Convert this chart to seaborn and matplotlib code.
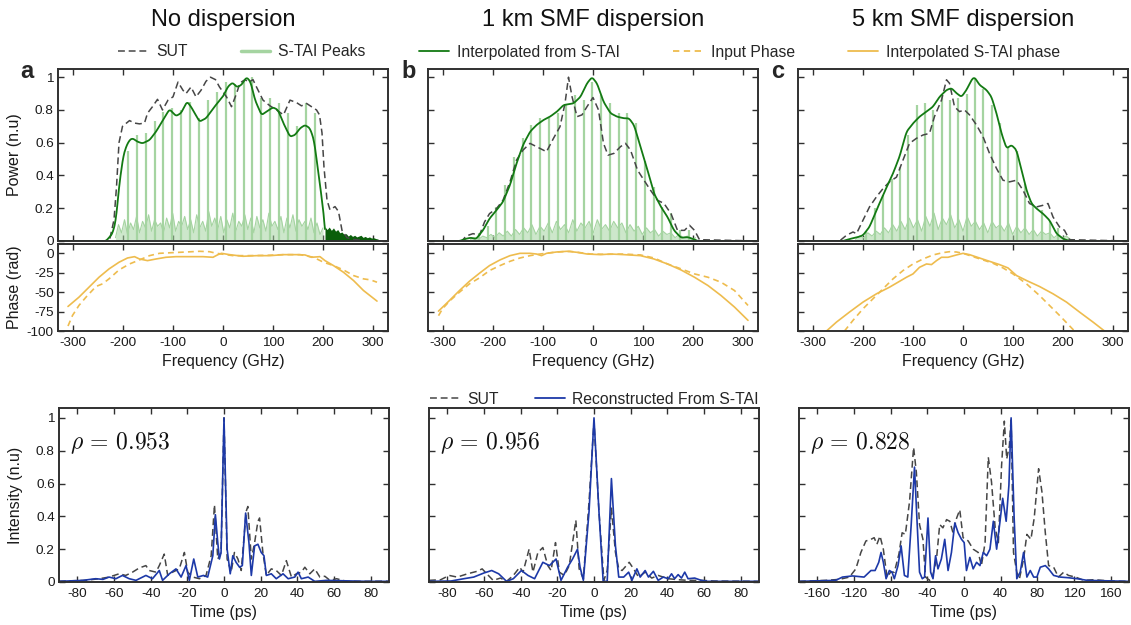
import numpy as np
import matplotlib
matplotlib.use("Agg")
import matplotlib.pyplot as plt
from matplotlib.lines import Line2D
import seaborn as sns

# ---------------- spectra (power, n.u.) ----------------
a_sut_f = [-330, -230, -227, -218, -213, -208, -201, -187, -177, -167, -157, -151, -141, -131, -121, -110, -100, -90, -80, -74,
           -64, -54, -44, -34, -25, -15, -7, 7, 17, 27, 34, 44, 52, 60, 67, 80, 94, 107, 121, 134,
           147, 157, 167, 177, 187, 193, 198, 202, 208, 214, 224, 231, 238, 248, 261, 288, 330]
a_sut_p = [0, 0, 0.004, 0.13, 0.33, 0.60, 0.70, 0.735, 0.72, 0.715, 0.72, 0.78, 0.82, 0.865, 0.80, 0.86, 0.88, 0.97, 0.92, 0.90,
           0.94, 0.88, 0.92, 0.975, 1.0, 0.985, 0.94, 0.88, 0.82, 0.90, 0.965, 0.985, 0.97, 0.985, 0.94, 0.86, 0.825, 0.80, 0.77, 0.86,
           0.845, 0.825, 0.84, 0.82, 0.80, 0.77, 0.66, 0.45, 0.25, 0.19, 0.21, 0.18, 0.065, 0.02, 0.01, 0.0, 0.0]
a_fit_f = [-330, -234, -221, -214, -208, -200, -194, -187, -181, -171, -161, -147, -134, -120, -107, -94, -84, -72, -64, -47,
           -34, -17, 0, 10, 19, 28, 37, 47, 55, 64, 77, 87, 100, 110, 121, 134, 144, 154, 164, 174,
           182, 191, 198, 204]
a_fit_p = [0, 0, 0.045, 0.13, 0.33, 0.51, 0.575, 0.616, 0.627, 0.606, 0.596, 0.616, 0.667, 0.739, 0.804, 0.763, 0.78, 0.851, 0.82, 0.729,
           0.749, 0.82, 0.882, 0.943, 0.967, 0.939, 0.953, 1.0, 0.973, 0.861, 0.769, 0.79, 0.816, 0.80, 0.718, 0.637, 0.647, 0.688, 0.708, 0.688,
           0.616, 0.412, 0.249, 0.086]
a_tail = [0.086, 0.07, 0.085, 0.065, 0.08, 0.06, 0.07, 0.05, 0.055, 0.04, 0.045, 0.03, 0.04, 0.028, 0.035, 0.025,
          0.03, 0.035, 0.022, 0.028, 0.02, 0.025, 0.018, 0.02, 0.015, 0.012, 0.0]
a_peak_f = [-191, -173, -155, -137, -120, -102, -84, -66, -49, -31, -13, 5, 23, 41, 58, 76, 94, 112, 130, 147, 165, 183]
a_peak_h = [0.55, 0.65, 0.66, 0.73, 0.79, 0.81, 0.80, 0.85, 0.75, 0.86, 0.91, 0.97, 0.96, 0.98, 1.0, 0.87, 0.87, 0.84, 0.78, 0.70, 0.84, 0.78]
a_fuzz = [0.02, 0.10, 0.05, 0.13, 0.04, 0.11, 0.07, 0.15, 0.05, 0.12, 0.08, 0.16, 0.06, 0.13, 0.09, 0.11, 0.05, 0.14, 0.08, 0.17,
          0.06, 0.12, 0.09, 0.15, 0.07, 0.13, 0.05, 0.16, 0.08, 0.12, 0.06, 0.18, 0.09, 0.14, 0.07, 0.15, 0.05, 0.13, 0.08, 0.17,
          0.06, 0.12, 0.09, 0.16, 0.07, 0.14, 0.05, 0.15, 0.08, 0.13, 0.06, 0.17, 0.09, 0.12, 0.07, 0.15, 0.05, 0.14, 0.08, 0.16,
          0.06, 0.13, 0.09, 0.12, 0.07, 0.14, 0.05, 0.11, 0.04, 0.08]

b_sut_f = [-330, -262, -254, -240, -227, -217, -207, -193, -180, -166, -153, -140, -126, -113, -93, -79, -66, -56, -49, -42,
           -32, -22, -12, 0, 11, 21, 30, 42, 55, 65, 75, 89, 102, 115, 129, 142, 156, 169, 183, 193,
           203, 213, 330]
b_sut_p = [0, 0, 0.03, 0.045, 0.035, 0.116, 0.167, 0.198, 0.249, 0.361, 0.494, 0.555, 0.596, 0.576, 0.545, 0.627, 0.698, 0.84, 1.0, 0.882,
           0.759, 0.77, 0.82, 0.876, 0.80, 0.596, 0.524, 0.535, 0.576, 0.596, 0.555, 0.433, 0.371, 0.31, 0.249, 0.229, 0.167, 0.065, 0.065, 0.096,
           0.065, 0.008, 0]
b_fit_f = [-330, -267, -254, -244, -234, -220, -207, -193, -180, -166, -153, -140, -126, -113, -99, -86, -72, -59, -39, -25,
           -12, -2, 8, 21, 35, 48, 62, 72, 82, 95, 109, 122, 136, 149, 162, 176, 189, 199, 209, 330]
b_fit_p = [0, 0, 0.014, 0.02, 0.012, 0.065, 0.137, 0.188, 0.239, 0.341, 0.473, 0.586, 0.667, 0.708, 0.739, 0.759, 0.79, 0.83, 0.84, 0.88,
           0.963, 1.0, 0.963, 0.85, 0.78, 0.759, 0.749, 0.749, 0.708, 0.576, 0.433, 0.29, 0.208, 0.147, 0.065, 0.02, 0.024, 0.014, 0, 0]
b_peak_f = [-229, -211, -194, -176, -159, -141, -124, -106, -89, -71, -54, -37, -19, -2, 16, 33, 51, 68, 86, 103, 121, 138, 156, 173, 191]
b_peak_h = [0.05, 0.09, 0.21, 0.34, 0.51, 0.63, 0.71, 0.75, 0.75, 0.78, 0.83, 0.89, 0.86, 0.97, 0.89, 0.84, 0.78, 0.78, 0.72, 0.49,
            0.33, 0.21, 0.17, 0.065, 0.07]
b_fuzz = [0.01, 0.02, 0.01, 0.03, 0.02, 0.04, 0.02, 0.05, 0.03, 0.06, 0.03, 0.07, 0.04, 0.08, 0.05, 0.10, 0.04, 0.09, 0.06, 0.11,
          0.05, 0.12, 0.07, 0.10, 0.05, 0.13, 0.06, 0.11, 0.08, 0.12, 0.05, 0.13, 0.07, 0.10, 0.06, 0.12, 0.08, 0.11, 0.05, 0.10,
          0.06, 0.09, 0.04, 0.08, 0.05, 0.07, 0.03, 0.06, 0.04, 0.05, 0.02, 0.04, 0.02, 0.03, 0.01, 0.02]

c_sut_f = [-330, -247, -233, -220, -213, -200, -187, -173, -160, -147, -133, -120, -107, -93, -80, -67, -57, -43, -33, -27,
           -17, -7, 3, 13, 27, 40, 53, 67, 80, 93, 107, 120, 133, 147, 160, 170, 180, 193, 203, 213, 330]
c_sut_p = [0, 0, 0.035, 0.055, 0.045, 0.127, 0.208, 0.27, 0.32, 0.361, 0.39, 0.494, 0.596, 0.627, 0.647, 0.657, 0.76, 0.86, 0.984, 0.963,
           0.82, 0.79, 0.80, 0.77, 0.708, 0.637, 0.535, 0.443, 0.371, 0.361, 0.371, 0.31, 0.229, 0.208, 0.218, 0.229, 0.147, 0.086, 0.065, 0.008, 0]
c_fit_f = [-330, -240, -227, -210, -200, -187, -173, -157, -140, -127, -113, -100, -87, -73, -60, -47, -33, -23, -13, -3,
           7, 17, 23, 33, 47, 57, 67, 77, 87, 97, 107, 117, 127, 137, 147, 160, 173, 187, 200, 213, 330]
c_fit_p = [0, 0, 0.012, 0.024, 0.035, 0.086, 0.188, 0.3, 0.412, 0.514, 0.667, 0.718, 0.759, 0.79, 0.82, 0.88, 0.922, 0.933, 0.902, 0.88,
           0.922, 0.984, 1.0, 0.953, 0.922, 0.88, 0.78, 0.657, 0.565, 0.586, 0.555, 0.433, 0.31, 0.229, 0.198, 0.167, 0.127, 0.045, 0.014, 0, 0]
c_peak_f = [-195, -177, -160, -143, -127, -110, -93, -77, -60, -43, -27, -10, 7, 23, 40, 57, 73, 90, 107, 123, 140, 157, 173, 190]
c_peak_h = [0.06, 0.2, 0.28, 0.38, 0.45, 0.65, 0.83, 0.84, 0.80, 0.90, 0.86, 0.87, 0.90, 0.99, 0.93, 0.83, 0.72, 0.57, 0.55, 0.35,
            0.22, 0.19, 0.12, 0.08]
c_fuzz = [0.01, 0.03, 0.02, 0.05, 0.03, 0.06, 0.04, 0.08, 0.05, 0.10, 0.06, 0.12, 0.07, 0.14, 0.08, 0.13, 0.06, 0.15, 0.09, 0.17,
          0.07, 0.14, 0.10, 0.16, 0.08, 0.13, 0.06, 0.15, 0.09, 0.12, 0.07, 0.11, 0.05, 0.12, 0.08, 0.10, 0.06, 0.11, 0.04, 0.09,
          0.05, 0.08, 0.04, 0.07, 0.03, 0.06, 0.04, 0.05, 0.02, 0.04, 0.02, 0.03, 0.01]

# ---------------- spectral phase (rad) ----------------
a_ph_fit_f = [-310, -288, -268, -248, -228, -208, -191, -177, -167, -151, -134, -114, -94, -67, -40, -20, -10, -3, 13, 40,
              67, 94, 121, 147, 164, 177, 194, 204, 221, 241, 261, 281, 308]
a_ph_fit = [-68.4, -56.4, -43.6, -30.8, -20.1, -11.5, -6, -4.3, -7.3, -9.4, -7.3, -5.1, -4.3, -4.3, -4.3, -5.1, -1.7, 0, -1.7, -3.8,
            -3, -3, -1.7, -1.7, -2.1, -5.1, -4.3, -9.4, -15.8, -24.4, -35, -47.9, -61.5]
a_ph_in_f = [-310, -301, -288, -274, -254, -241, -228, -208, -187, -167, -147, -127, -100, -74, -47, -27, -13, -3, 20, 47,
             87, 121, 154, 181, 201, 221, 241, 261, 281, 295, 308]
a_ph_in = [-93.6, -80, -67, -56.4, -42.7, -39.3, -32.9, -21.4, -13.7, -8.5, -3, 0, 0.9, 1.7, 2.6, 2.1, 0, -0.9, -3, -3,
           -2.6, -1.7, -1.7, -5.1, -11.5, -15.8, -21.4, -28.6, -32.9, -34.2, -37.2]

b_ph_fit_f = [-309, -287, -267, -247, -227, -207, -186, -166, -146, -126, -113, -103, -93, -73, -52, -32, -12, 15, 35, 62,
              95, 122, 149, 176, 203, 230, 256, 283, 310]
b_ph_fit = [-74.4, -60.7, -47.9, -35.9, -25.6, -15.8, -8.5, -3, 0, 0, -0.9, -3, 0, 1.7, 2.6, 1.3, -0.9, -1.7, -0.9, -1.7,
            -3, -7.3, -13.7, -21.4, -30.8, -41.5, -54.3, -69.2, -86.3]
b_ph_in_f = [-309, -301, -287, -267, -247, -227, -207, -186, -166, -146, -126, -106, -73, -46, -26, -5, 28, 62, 95, 122,
             149, 176, 203, 230, 256, 283, 310]
b_ph_in = [-80.3, -71.4, -61.5, -50, -39.3, -31.6, -22.2, -15.8, -10.3, -6, -3, -0.9, 1.7, 2.6, 0.9, -0.9, -1.3, -0.9, -2.1, -6,
           -13.7, -20, -26.5, -30.8, -37.2, -47.9, -67.1]

c_ph_fit_f = [-290, -273, -253, -227, -200, -173, -147, -130, -113, -100, -87, -73, -63, -53, -43, -30, -13, 0, 13, 33,
              53, 73, 90, 107, 127, 153, 180, 207, 233, 260, 283, 300]
c_ph_fit = [-110, -100, -88.5, -75.6, -62.8, -52.1, -43.6, -37.2, -30.8, -26.5, -18, -13.7, -14.5, -9.4, -5.1, -5.1, -2.1, 0, -1.7, -6,
            -10.3, -14.5, -18.8, -28.6, -35, -42.7, -52.1, -62.8, -75.6, -88.5, -100, -110]
c_ph_in_f = [-250, -237, -220, -200, -180, -160, -140, -120, -100, -80, -60, -40, -27, -13, 0, 20, 40, 60, 80, 100,
             127, 153, 173, 193, 223, 235]
c_ph_in = [-110, -100, -86.3, -71.4, -58.5, -45.7, -32.9, -22.2, -13.7, -7.3, -2.1, 0.9, 2.1, 1.7, 0, -4.3, -8.5, -12.8, -18.8, -26.5,
           -39.3, -54.3, -67.1, -79.9, -100, -110]

# ---------------- temporal intensity (n.u.) ----------------
a_t_sut = [-90, -75.5, -68, -62.7, -57.2, -53.6, -49.9, -46.3, -42.6, -40.8, -37.1, -35.3, -32.6, -30.7, -28, -24.4, -21.6, -19.8, -17, -13.4,
           -9.8, -7, -5.2, -3.4, -1.6, 0, 1.7, 3.9, 5.7, 7.6, 9.4, 12.1, 13, 14.9, 16.7, 18.5, 19.4, 21.2, 23.1, 25.8,
           28.5, 31.3, 34, 36.8, 39.5, 42.2, 44.1, 46.8, 49.5, 52.3, 55, 57.8, 61.4, 66.9, 90]
a_i_sut = [0.005, 0.01, 0.02, 0.03, 0.05, 0.04, 0.06, 0.085, 0.10, 0.07, 0.06, 0.10, 0.17, 0.04, 0.06, 0.08, 0.18, 0.06, 0.03, 0.02,
           0.04, 0.16, 0.47, 0.14, 0.18, 1.0, 0.14, 0.06, 0.18, 0.14, 0.07, 0.43, 0.46, 0.14, 0.24, 0.37, 0.39, 0.18, 0.04, 0.08,
           0.07, 0.04, 0.13, 0.03, 0.05, 0.06, 0.09, 0.05, 0.08, 0.03, 0.035, 0.01, 0.02, 0.004, 0.005]
a_t_rec = [-90, -77, -70, -66, -62.7, -59, -55.4, -51.7, -48, -42.6, -39, -35.3, -33.5, -29.8, -26.2, -23.4, -20.7, -18.9, -16.5, -14.3,
           -11.2, -8.9, -6.1, -4.7, -3.4, -2.5, -1.6, 0, 1.7, 3.4, 4.8, 6.6, 8.5, 10, 11.8, 13.6, 14.9, 16.7, 18.5, 20.3,
           21.8, 23.1, 25.8, 28.5, 32.2, 35, 38.6, 40.4, 42.2, 45.9, 49.5, 55.9, 77.8, 90]
a_i_rec = [0.004, 0.01, 0.02, 0.016, 0.03, 0.02, 0.04, 0.02, 0.01, 0.04, 0.02, 0.07, 0.01, 0.05, 0.08, 0.03, 0.10, 0.01, 0.14, 0.03,
           0.04, 0.03, 0.16, 0.41, 0.24, 0.14, 0.18, 1.0, 0.20, 0.05, 0.16, 0.12, 0.09, 0.10, 0.42, 0.24, 0.04, 0.22, 0.23, 0.18,
           0.16, 0.04, 0.05, 0.02, 0.05, 0.02, 0.03, 0.06, 0.02, 0.03, 0.004, 0.01, 0.004, 0.004]

b_t_sut = [-90, -83.6, -79, -74.6, -69, -63.8, -61, -58.5, -55, -51, -47.7, -44, -40.5, -38.7, -35.4, -33.3, -30.6, -27.9, -25.2, -23.4,
           -21, -18.9, -16.2, -13.5, -9.9, -8.1, -5.8, -2.7, 0, 2.7, 5.4, 7.2, 9.5, 11.7, 13.5, 15.3, 19.2, 21.6, 24.3, 27.9,
           31.5, 35, 40.5, 45.9, 51.3, 58.5, 65.6, 90]
b_i_sut = [0.01, 0.014, 0.04, 0.03, 0.05, 0.065, 0.08, 0.05, 0.01, 0.024, 0.004, 0.04, 0.09, 0.06, 0.20, 0.06, 0.18, 0.21, 0.10, 0.07,
           0.24, 0.06, 0.04, 0.10, 0.376, 0.08, 0.02, 0.49, 0.98, 0.43, 0.01, 0.07, 0.45, 0.18, 0.08, 0.07, 0.12, 0.08, 0.03, 0.06,
           0.024, 0.04, 0.02, 0.014, 0.01, 0.01, 0.006, 0.004]
b_t_rec = [-90, -78, -71, -65.6, -60, -55.8, -52, -47.7, -44, -39.6, -36, -32.4, -27.9, -24.3, -20.7, -18, -14.4, -11.7, -9, -7.6,
           -5.8, -2.7, 0, 2.7, 5, 7.2, 9.5, 11.7, 13.5, 16.2, 18.9, 20.7, 23.4, 25.2, 27.9, 29.7, 32.4, 35, 37.8, 40.5,
           42.3, 44, 45.9, 47.7, 49.5, 51.3, 54.9, 58.5, 62, 90]
b_i_rec = [0.004, 0.006, 0.02, 0.03, 0.055, 0.07, 0.05, 0.004, 0.02, 0.07, 0.04, 0.02, 0.12, 0.10, 0.14, 0.01, 0.09, 0.14, 0.20, 0.09,
           0.01, 0.43, 1.0, 0.43, 0.004, 0.004, 0.63, 0.22, 0.03, 0.03, 0.06, 0.01, 0.08, 0.03, 0.07, 0.03, 0.065, 0.01, 0.03, 0.02,
           0.05, 0.02, 0.045, 0.024, 0.06, 0.02, 0.024, 0.01, 0.004, 0.004]

c_t_sut = [-180, -151, -136, -125, -118, -112.5, -107, -101.5, -98, -95, -91.6, -88, -84, -80, -76, -71, -67.5, -64, -59.4, -55,
           -52, -48.5, -44.8, -42, -37.5, -34, -30, -26.5, -23, -19, -15.5, -12, -8, -4.6, -1, 4.6, 10, 15.5, 19, 23,
           26.5, 30, 34, 37.5, 41, 44, 46.6, 49.5, 51.4, 54, 57.6, 60.5, 65, 68.6, 73, 76.6, 81.4, 85, 88.7, 92.3,
           97.8, 103, 108.8, 114, 121.6, 130.8, 141.7, 160, 180]
c_i_sut = [0.004, 0.01, 0.016, 0.03, 0.08, 0.18, 0.25, 0.26, 0.27, 0.23, 0.28, 0.20, 0.03, 0.06, 0.06, 0.17, 0.30, 0.29, 0.49, 0.82,
           0.67, 0.35, 0.26, 0.03, 0.01, 0.04, 0.14, 0.35, 0.33, 0.38, 0.37, 0.30, 0.39, 0.44, 0.27, 0.25, 0.20, 0.18, 0.10, 0.24,
           0.76, 0.61, 0.33, 0.24, 0.71, 0.98, 0.75, 0.83, 1.0, 0.18, 0.06, 0.02, 0.14, 0.29, 0.26, 0.39, 0.69, 0.55, 0.30, 0.10,
           0.09, 0.03, 0.06, 0.04, 0.03, 0.01, 0.014, 0.006, 0.004]
c_t_rec = [-180, -140, -132.6, -121.6, -109, -101.5, -97, -93, -90.5, -88, -85, -81.4, -78.5, -76, -72, -68.6, -65, -61.3, -57.6, -54,
           -51.4, -48.5, -45.5, -43, -39.3, -36.4, -33.8, -31, -28.4, -24.7, -21, -17.4, -13.7, -10, -6.4, -2.7, 0.2, 2.7, 6.4, 10,
           13.7, 17.4, 21, 24.7, 28.3, 32, 35.6, 39.3, 42.2, 46, 49, 51.4, 54.7, 57.6, 61.3, 65, 68.6, 72.3, 76, 79.5,
           83.2, 88.7, 92.3, 97.8, 105, 114, 123.4, 134.4, 180]
c_i_rec = [0.004, 0.01, 0.03, 0.037, 0.03, 0.07, 0.07, 0.12, 0.18, 0.12, 0.02, 0.07, 0.06, 0.02, 0.10, 0.22, 0.04, 0.03, 0.35, 0.70,
           0.39, 0.06, 0.02, 0.03, 0.39, 0.06, 0.02, 0.16, 0.08, 0.14, 0.26, 0.07, 0.18, 0.36, 0.30, 0.26, 0.24, 0.07, 0.15, 0.08,
           0.12, 0.10, 0.18, 0.16, 0.20, 0.37, 0.20, 0.37, 0.51, 0.37, 0.59, 1.0, 0.39, 0.02, 0.06, 0.18, 0.03, 0.07, 0.03, 0.03,
           0.09, 0.10, 0.08, 0.04, 0.03, 0.026, 0.02, 0.01, 0.004]

titles = ["No dispersion", "1 km SMF dispersion", "5 km SMF dispersion"]
letters = ["a", "b", "c"]
rhos = ["0.953", "0.956", "0.828"]

SUT_C = "#464646"
PEAK_C = "#a5d4a1"
FIT_C = "#137a13"
TAIL_C = "#0a5e0a"
PH_C = "#eebc4e"
REC_C = "#1d39a8"

sns.set_theme(style="ticks")
plt.rcParams.update({
    "font.family": ["Liberation Sans", "DejaVu Sans"],
    "mathtext.fontset": "cm",
    "axes.unicode_minus": False,
    "xtick.direction": "in", "ytick.direction": "in",
    "xtick.top": True, "ytick.right": True,
    "xtick.major.size": 4, "ytick.major.size": 4,
    "xtick.major.width": 1.0, "ytick.major.width": 1.0,
    "xtick.major.pad": 4, "ytick.major.pad": 3,
    "axes.linewidth": 1.4, "axes.edgecolor": "#303030",
    "xtick.color": "#303030", "ytick.color": "#303030",
    "xtick.labelcolor": "#1a1a1a", "ytick.labelcolor": "#1a1a1a",
    "xtick.labelsize": 9.7, "ytick.labelsize": 9.7,
    "axes.labelsize": 11.5, "axes.labelcolor": "#1a1a1a",
})

W, H = 1131, 625
fig = plt.figure(figsize=(W / 100, H / 100), dpi=100)


def box(x0, x1, top, bottom):
    return fig.add_axes([x0 / W, 1 - bottom / H, (x1 - x0) / W, (bottom - top) / H])


def smooth(f, p, win=7):
    grid = np.arange(f[0], f[-1] + 0.5, 1.0)
    y = np.interp(grid, f, p)
    return grid, np.convolve(y, np.ones(win) / win, mode="same")


spec = [
    (a_sut_f, a_sut_p, a_fit_f, a_fit_p, a_peak_f, a_peak_h, a_fuzz, (-215, 200)),
    (b_sut_f, b_sut_p, b_fit_f, b_fit_p, b_peak_f, b_peak_h, b_fuzz, (-245, 205)),
    (c_sut_f, c_sut_p, c_fit_f, c_fit_p, c_peak_f, c_peak_h, c_fuzz, (-215, 215)),
]
phase = [
    (a_ph_in_f, a_ph_in, a_ph_fit_f, a_ph_fit),
    (b_ph_in_f, b_ph_in, b_ph_fit_f, b_ph_fit),
    (c_ph_in_f, c_ph_in, c_ph_fit_f, c_ph_fit),
]
pulse = [
    (a_t_sut, a_i_sut, a_t_rec, a_i_rec, 90, 20),
    (b_t_sut, b_i_sut, b_t_rec, b_i_rec, 90, 20),
    (c_t_sut, c_i_sut, c_t_rec, c_i_rec, 180, 40),
]
cols = [(58, 388), (428, 758), (798, 1128)]
dash = (0, (4.5, 2.5))

for k in range(3):
    x0, x1 = cols[k]
    sf, sp, ff, fp, pk_f, pk_h, fuzz, band = spec[k]

    # power spectrum
    ax = box(x0, x1, 69, 241)
    fx = np.linspace(band[0], band[1], len(fuzz))
    ax.fill_between(fx, fuzz, color=PEAK_C, alpha=0.55, lw=0)
    ax.plot(fx, fuzz, color=PEAK_C, lw=0.8)
    ax.vlines(pk_f, 0, pk_h, color=PEAK_C, lw=1.6)
    if k == 0:
        tx = np.linspace(204, 314, len(a_tail))
        ax.fill_between(tx, a_tail, color=TAIL_C, lw=0)
    sns.lineplot(x=sf, y=sp, ax=ax, color=SUT_C, lw=1.1, linestyle=dash, estimator=None, sort=False)
    gx, gy = smooth(ff, fp)
    sns.lineplot(x=gx, y=gy, ax=ax, color=FIT_C, lw=1.3, estimator=None, sort=False)
    ax.set_xlim(-330, 330)
    ax.set_ylim(0, 1.05)
    ax.set_xticks([-300, -200, -100, 0, 100, 200, 300])
    ax.set_xticklabels([])
    ax.set_yticks([0, 0.2, 0.4, 0.6, 0.8, 1])
    if k == 0:
        ax.set_yticklabels(["0", "0.2", "0.4", "0.6", "0.8", "1"])
        ax.set_ylabel("Power (n.u)")
        ax.yaxis.set_label_coords(-0.108, 0.5)
    else:
        ax.set_yticklabels([])
    ax.set_xlabel("")

    # spectral phase
    ax = box(x0, x1, 244, 331)
    pin_f, pin, pfit_f, pfit = phase[k]
    sns.lineplot(x=pin_f, y=pin, ax=ax, color=PH_C, lw=1.2, linestyle=(0, (3.5, 2.5)), estimator=None, sort=False)
    sns.lineplot(x=pfit_f, y=pfit, ax=ax, color=PH_C, lw=1.2, estimator=None, sort=False)
    ax.set_xlim(-330, 330)
    ax.set_ylim(-100, 12)
    ax.set_xticks([-300, -200, -100, 0, 100, 200, 300])
    ax.set_yticks([0, -25, -50, -75, -100])
    if k == 0:
        ax.set_yticklabels(["0", "-25", "-50", "-75", "-100"])
        ax.set_ylabel("Phase (rad)")
        ax.yaxis.set_label_coords(-0.108, 0.5)
    else:
        ax.set_yticklabels([])
    ax.set_xlabel("Frequency (GHz)", labelpad=4)

    # temporal intensity
    ax = box(x0 + 1, x1 + 1, 408, 582)
    ts, its, tr, ir, lim, step = pulse[k]
    sns.lineplot(x=ts, y=its, ax=ax, color=SUT_C, lw=1.1, linestyle=dash, estimator=None, sort=False)
    sns.lineplot(x=tr, y=ir, ax=ax, color=REC_C, lw=1.2, estimator=None, sort=False)
    ax.set_xlim(-lim, lim)
    ax.set_ylim(0, 1.06)
    ax.set_xticks(np.arange(-lim + step / 2, lim, step))
    ax.set_yticks([0, 0.2, 0.4, 0.6, 0.8, 1])
    if k == 0:
        ax.set_yticklabels(["0", "0.2", "0.4", "0.6", "0.8", "1"])
        ax.set_ylabel("Intensity (n.u)")
        ax.yaxis.set_label_coords(-0.108, 0.5)
    else:
        ax.set_yticklabels([])
    ax.set_xlabel("Time (ps)", labelpad=4)
    ax.text(0.033, 0.80, r"$\rho\,=\,%s$" % rhos[k], transform=ax.transAxes,
            fontsize=17, va="center", ha="left", color="#111111")
    if k == 1:
        h_b = [Line2D([], [], color=SUT_C, lw=1.1, linestyle=dash),
               Line2D([], [], color=REC_C, lw=1.3)]
        fig.legend(h_b, ["SUT", "Reconstructed From S-TAI"], loc="center right",
                   bbox_to_anchor=(759 / W, 1 - 399 / H), ncol=2, frameon=False,
                   fontsize=11.3, handlelength=1.9, handletextpad=0.5,
                   columnspacing=2.3, borderpad=0, borderaxespad=0)

    fig.text((x0 + x1) / 2 / W, 1 - 20 / H, titles[k], ha="center", va="center",
             fontsize=17, color="#111111")

fig.text(20 / W, 1 - 72 / H, "a", fontsize=17, fontweight="bold", va="center")
fig.text(401 / W, 1 - 72 / H, "b", fontsize=17, fontweight="bold", va="center")
fig.text(771 / W, 1 - 72 / H, "c", fontsize=17, fontweight="bold", va="center")

handles = [
    Line2D([], [], color=SUT_C, lw=1.1, linestyle=dash),
    Line2D([], [], color=PEAK_C, lw=2.5),
    Line2D([], [], color=FIT_C, lw=1.3),
    Line2D([], [], color=PH_C, lw=1.3, linestyle=(0, (3.5, 2.5))),
    Line2D([], [], color=PH_C, lw=1.3),
]
labels = ["SUT", "S-TAI Peaks", "Interpolated from S-TAI", "Input Phase", "Interpolated S-TAI phase"]
fig.legend(handles, labels, loc="center", bbox_to_anchor=(589 / W, 1 - 52 / H), ncol=5,
           frameon=False, fontsize=11.3, handlelength=1.9, handletextpad=0.5,
           columnspacing=3.4, borderpad=0)

fig.savefig("out.png", dpi=100)
